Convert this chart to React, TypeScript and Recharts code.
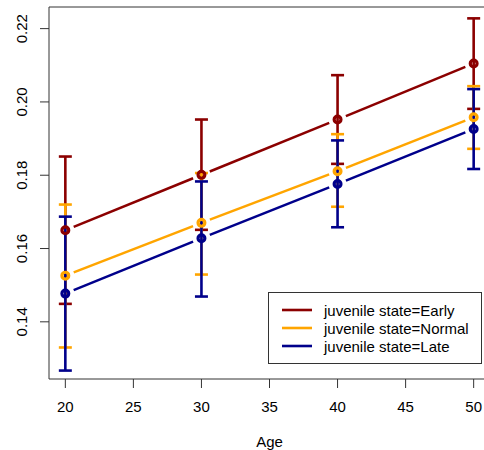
import React from "react";
import { LineChart, Line, XAxis, YAxis, ErrorBar, ReferenceArea, Label } from "recharts";

const ages = [20, 30, 40, 50];

const early = [0.165, 0.1801, 0.1952, 0.2105];
const earlyLow = [0.1449, 0.1651, 0.1831, 0.1981];
const earlyHigh = [0.1851, 0.1952, 0.2073, 0.2228];

const normal = [0.1526, 0.167, 0.1811, 0.1958];
const normalLow = [0.133, 0.1529, 0.1714, 0.1872];
const normalHigh = [0.172, 0.1806, 0.1912, 0.2043];

const late = [0.1477, 0.1628, 0.1776, 0.1926];
const lateLow = [0.1267, 0.1469, 0.1658, 0.1817];
const lateHigh = [0.1687, 0.1783, 0.1895, 0.2035];

const xTicks = [20, 25, 30, 35, 40, 45, 50];
const yTicks = [0.14, 0.16, 0.18, 0.2, 0.22];

const font = "'Liberation Sans', Arial, sans-serif";
const xDomain = [18.8, 51.2];
const yDomain = [0.1244, 0.2259];

const series = [
  { key: "early", name: "juvenile state=Early", color: "#8B0000", mid: early, low: earlyLow, high: earlyHigh },
  { key: "normal", name: "juvenile state=Normal", color: "#FFA500", mid: normal, low: normalLow, high: normalHigh },
  { key: "late", name: "juvenile state=Late", color: "#00008B", mid: late, low: lateLow, high: lateHigh },
];

const data = ages.map((age, i) => {
  const row: any = { age };
  series.forEach((s) => {
    row[s.key] = s.mid[i];
    row[s.key + "Err"] = [s.mid[i] - s.low[i], s.high[i] - s.mid[i]];
  });
  return row;
});

// R type="b": segments stop short of each point
const makeDot = (color: string) => (props: any) => {
  const { cx, cy, index, points } = props;
  let seg = null;
  if (index > 0 && points && points[index - 1]) {
    const p = points[index - 1];
    const dx = cx - p.x;
    const dy = cy - p.y;
    const len = Math.hypot(dx, dy);
    const g = 9;
    seg = (
      <line
        x1={p.x + (dx * g) / len}
        y1={p.y + (dy * g) / len}
        x2={cx - (dx * g) / len}
        y2={cy - (dy * g) / len}
        stroke={color}
        strokeWidth={2.5}
      />
    );
  }
  return (
    <g key={`dot-${index}`}>
      {seg}
      <circle cx={cx} cy={cy} r={3.4} fill="none" stroke={color} strokeWidth={3.2} />
    </g>
  );
};

const YTick = (props: any) => {
  const { y, payload } = props;
  return (
    <text x={27} y={y} transform={`rotate(-90, 27, ${y})`} textAnchor="middle" fontSize={15} fontFamily={font} fill="#000">
      {payload.value.toFixed(2)}
    </text>
  );
};

export default function App() {
  return (
    <div style={{ position: "absolute", left: 0, top: 0, width: 484, height: 450, overflow: "hidden", background: "#fff" }}>
      <LineChart width={500} height={450} data={data} margin={{ top: 7, right: 10, bottom: 0, left: 0 }}>
        <XAxis
          dataKey="age"
          type="number"
          domain={xDomain}
          ticks={xTicks}
          allowDataOverflow
          axisLine={false}
          tickSize={9}
          tickMargin={13}
          tickLine={{ stroke: "#333" }}
          tick={{ fontSize: 15, fill: "#000", fontFamily: font }}
          height={71}
        >
          <Label
            content={(p: any) => {
              const vb = p.viewBox || { x: 49, width: 441 };
              return (
                <text x={vb.x + vb.width / 2} y={447} textAnchor="middle" fontSize={15} fontFamily={font} fill="#000">
                  Age
                </text>
              );
            }}
          />
        </XAxis>
        <YAxis
          type="number"
          domain={yDomain}
          ticks={yTicks}
          allowDataOverflow
          axisLine={false}
          tickSize={9}
          tickLine={{ stroke: "#333" }}
          tick={<YTick />}
          width={49}
        />
        <ReferenceArea x1={xDomain[0]} x2={xDomain[1]} y1={yDomain[0]} y2={yDomain[1]} fill="none" stroke="#333" strokeWidth={1} />
        {series.map((s) => (
          <Line
            key={s.key}
            dataKey={s.key}
            name={s.name}
            stroke="none"
            dot={makeDot(s.color)}
            activeDot={false}
            isAnimationActive={false}
          >
            <ErrorBar dataKey={s.key + "Err"} width={6.5} stroke={s.color} strokeWidth={2.6} direction="y" isAnimationActive={false} />
          </Line>
        ))}
      </LineChart>
      <svg width={484} height={450} style={{ position: "absolute", left: 0, top: 0, pointerEvents: "none" }}>
        <rect x={268.5} y={292.5} width={213} height={71} fill="#fff" stroke="#333" strokeWidth={1} />
        {series.map((s, i) => (
          <g key={s.key}>
            <line x1={282} x2={312} y1={310 + i * 18} y2={310 + i * 18} stroke={s.color} strokeWidth={2.6} />
            <text x={324} y={315.5 + i * 18} fontSize={15} fontFamily={font} fill="#000">
              {s.name}
            </text>
          </g>
        ))}
      </svg>
    </div>
  );
}
